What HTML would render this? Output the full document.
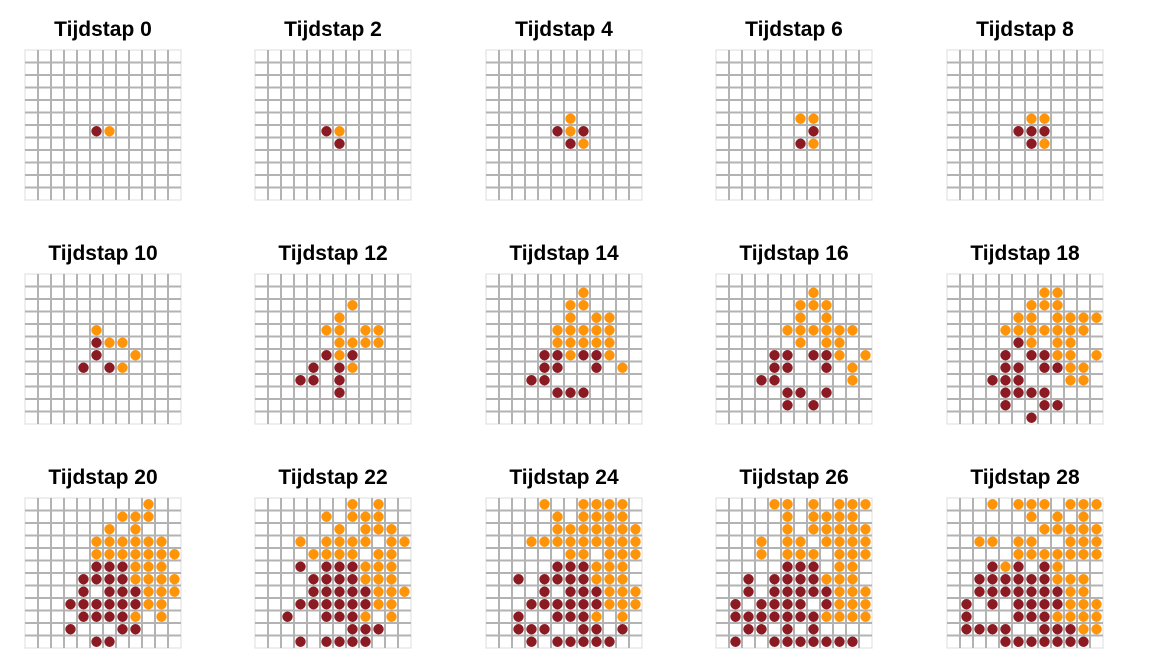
<!DOCTYPE html>
<html><head><meta charset="utf-8">
<style>
html,body{margin:0;padding:0;background:#fff;}
svg{display:block;}
text{font-family:"Liberation Sans",Arial,sans-serif;font-weight:bold;font-size:21px;fill:#000;}
</style></head>
<body>
<svg id="chart" width="1152" height="672" xmlns="http://www.w3.org/2000/svg"></svg>
<script>
const timesteps = [0,2,4,6,8,10,12,14,16,18,20,22,24,26,28];
const grid0 = ["","","","","","",".....ro.....","","","","",""];
const grid2 = ["","","","","","",".....ro.....","......r.....","","","",""];
const grid4 = ["","","","","","......o.....",".....ror....","......ro....","","","",""];
const grid6 = ["","","","","","......oo....",".......r....","......ro....","","","",""];
const grid8 = ["","","","","","......oo....",".....rrr....","......ro....","","","",""];
const grid10 = ["","","","",".....o......",".....roo....",".....r..o...","....r.ro....","","","",""];
const grid12 = ["","",".......o....","......o.....",".....oo.oo..","......oooo..",".....ror....","....r.ro....","...rr.r.....","......r.....","",""];
const grid14 = ["",".......o....","......oo....","......o.oo..",".....ooooo..",".....ooooo..","....rrorro..","....rr..r.o.","...rr.......",".....rrr....","",""];
const grid16 = ["",".......o....","......ooo...","......o.o...",".....oooooo.","......o.oo..","....rr.rro.o","....rr..r.o.","...rr.....o.",".....rr.r...",".....r.r....",""];
const grid18 = ["",".......oo...","......ooo...",".....oo.oooo","....ooooooo.",".....ro.oo..","....r.rroo.o","....rr.rroo.","...rrr...oo.","....rrrr....","....r..rr...","......r....."];
const grid20 = [".........o..",".......ooo..","......o.o...",".....oooooo.",".....ooooooo",".....rrrooo.","....rrrroooo","....r.rrrooo","...rrrrrroo.","....rrrro.o.","...r...rr...",".....rr....."];
const grid22 = [".......o.o..",".....o.ooo..","......o.ooo.","...o.oooo.oo","....oooo.oo.","...r.rrrooo.","....rrrrooo.","....rrrrrooo","...rrrrrroo.","..r..rrro.o.",".......rrr..","...r.rrrr..."];
const grid24 = ["....o..oooo.",".....o.oooo.",".....ooooooo","...ooooooooo","......oo.ooo",".....rrrooo.","..r.rrrrooo.","....r.rrrooo","...rrrrrrooo","..r..rrro.o.","..rrr..rr.r.","...r.rrrrr.."];
const grid26 = ["....oo.o.ooo",".....o.oooo.",".....o.ooooo","...o.oo.oooo","...o.ooo.ooo",".....rrr.oo.","..r.rrrrooo.","..r.rrrrrooo",".r.rrrr.rooo",".rrrrrrroooo","..rr.r.r....",".r..rrrrrrr."];
const grid28 = ["...o.ooo.ooo","......o.o.o.",".......ooooo","..oo.oo..ooo",".....ooooooo","...ror.ro...","..rrrrrrooo.","..rrrrrrroo.",".r.r.rrrrooo",".r...rrroooo",".rrrr..rrroo","....rrrrrrr."];
const grids = [grid0,grid2,grid4,grid6,grid8,grid10,grid12,grid14,grid16,grid18,grid20,grid22,grid24,grid26,grid28];

const NS = "http://www.w3.org/2000/svg";
const svg = document.getElementById('chart');
const panelLeft = [25,255,486,716,947];
const panelTop = [50,274,498];
const CW = 13, CH = 12.5, N = 12;
function xScale(p, col){ return panelLeft[p%5] + (col+0.5)*CW; }
function yScale(p, row){ return panelTop[Math.floor(p/5)] + (row+0.5)*CH; }
function mk(tag, attrs){ const e=document.createElementNS(NS,tag); for(const k in attrs) e.setAttribute(k,attrs[k]); return e; }

timesteps.forEach((t,p)=>{
  const g = mk('g',{});
  
  
  const x0 = panelLeft[p%5], y0 = panelTop[Math.floor(p/5)];
  const title = mk('text',{x:x0+N*CW/2, y:y0-14, 'text-anchor':'middle'});
  title.textContent = 'Tijdstap ' + t;
  
  
  g.appendChild(title);
  const bg = mk('rect',{x:x0,y:y0,width:N*CW,height:N*CH,fill:'#fff',stroke:'#dcdcdc','stroke-width':1});
  
  
  g.appendChild(bg);
  for(let i=1;i<N;i++){
    const vl = mk('line',{x1:x0+i*CW,x2:x0+i*CW,y1:y0,y2:y0+N*CH,stroke:'#b3b3b3','stroke-width':2});
    
    
    g.appendChild(vl);
    const hl = mk('line',{x1:x0,x2:x0+N*CW,y1:y0+i*CH,y2:y0+i*CH,stroke:'#b3b3b3','stroke-width':2});
    
    
    g.appendChild(hl);
  }
  grids[p].forEach((rowStr,row)=>{
    for(let col=0; col<rowStr.length; col++){
      const ch = rowStr[col];
      if(ch!=='r' && ch!=='o') continue;
      const c = mk('circle',{cx:xScale(p,col), cy:yScale(p,row), r:5.2, fill: ch==='r' ? '#8B1A22' : '#FF9408'});
      
      
      g.appendChild(c);
    }
  });
  svg.appendChild(g);
});
</script>
</body></html>
